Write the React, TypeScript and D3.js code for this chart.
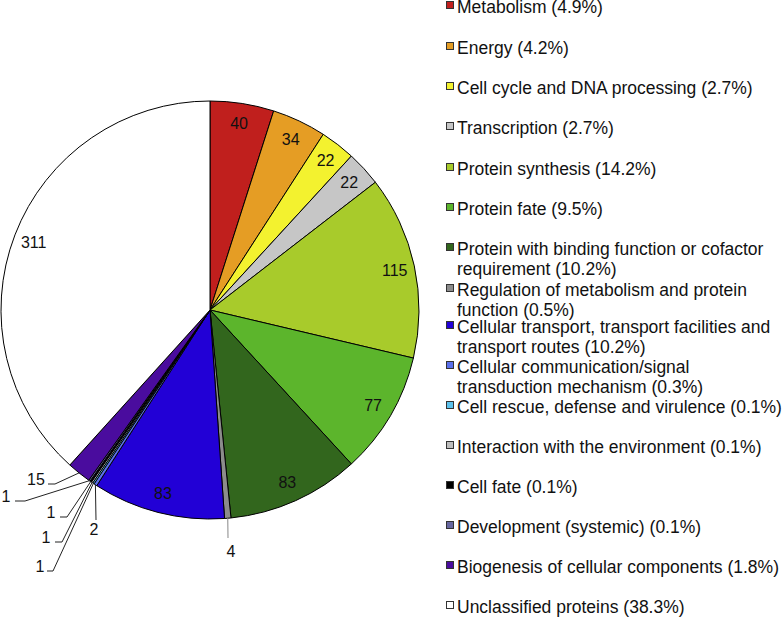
import React from "react";
import * as d3 from "d3";

const categories = [
  "Metabolism",
  "Energy",
  "Cell cycle and DNA processing",
  "Transcription",
  "Protein synthesis",
  "Protein fate",
  "Protein with binding function or cofactor requirement",
  "Regulation of metabolism and protein function",
  "Cellular transport, transport facilities and transport routes",
  "Cellular communication/signal transduction mechanism",
  "Cell rescue, defense and virulence",
  "Interaction with the environment",
  "Cell fate",
  "Development (systemic)",
  "Biogenesis of cellular components",
  "Unclassified proteins",
];
const counts = [40, 34, 22, 22, 115, 77, 83, 4, 83, 2, 1, 1, 1, 1, 15, 311];
const percents = ["4.9%", "4.2%", "2.7%", "2.7%", "14.2%", "9.5%", "10.2%", "0.5%", "10.2%", "0.3%", "0.1%", "0.1%", "0.1%", "0.1%", "1.8%", "38.3%"];
const colors = [
  "#c01f1d", "#e59d24", "#f3f22f", "#c6c6c6", "#a8cb2b", "#5cb52c", "#32661d", "#8c8c8c",
  "#2200d6", "#5a6fea", "#5cc1ec", "#bdbdbd", "#000000", "#6767a0", "#4a0c9e", "#ffffff",
];
// legend line wrapping (text), layout handled below
const legendLines = [
  ["Metabolism (4.9%)"],
  ["Energy (4.2%)"],
  ["Cell cycle and DNA processing (2.7%)"],
  ["Transcription (2.7%)"],
  ["Protein synthesis (14.2%)"],
  ["Protein fate (9.5%)"],
  ["Protein with binding function or cofactor", "requirement (10.2%)"],
  ["Regulation of metabolism and protein", "function (0.5%)"],
  ["Cellular transport, transport facilities and", "transport routes (10.2%)"],
  ["Cellular communication/signal", "transduction mechanism (0.3%)"],
  ["Cell rescue, defense and virulence (0.1%)"],
  ["Interaction with the environment (0.1%)"],
  ["Cell fate (0.1%)"],
  ["Development (systemic) (0.1%)"],
  ["Biogenesis of cellular components (1.8%)"],
  ["Unclassified proteins (38.3%)"],
];

// layout
const W = 782, H = 626;
const CX = 210, CY = 310, R = 209, LABEL_R = 189;
const legendBaselines = [13, 54, 94, 134, 175, 215, 255, 296, 333, 373, 413, 453, 493, 533, 573, 613];
const FONT = "Liberation Sans, Arial, Helvetica, sans-serif";
const LEGEND_FS = 17.5;
const inside = new Set([0, 1, 2, 3, 4, 5, 6, 8, 15]);
// outside label layout: text position and elbow points
const outsideLayout: Record<number, { tx: number; ty: number; pts: [number, number][]; stroke: string }> = {
  7: { tx: 231, ty: 557, pts: [[228, 538]], stroke: "#888" },
  9: { tx: 94, ty: 535, pts: [[96, 520]], stroke: "#222" },
  10: { tx: 40, ty: 572, pts: [[47, 571], [53, 571]], stroke: "#222" },
  11: { tx: 46, ty: 543, pts: [[55, 542], [62, 542]], stroke: "#222" },
  12: { tx: 51, ty: 518, pts: [[60, 517], [67, 517]], stroke: "#222" },
  13: { tx: 6, ty: 502, pts: [[15, 501], [25, 501]], stroke: "#222" },
  14: { tx: 36, ty: 485, pts: [[48, 484], [55, 484]], stroke: "#222" },
};

export default function App() {
  const pie = d3.pie<number>().sort(null).value((d) => d).startAngle(0).endAngle(2 * Math.PI);
  const arcs = pie(counts);
  const arc = d3.arc<d3.PieArcDatum<number>>().innerRadius(0).outerRadius(R);
  const labelArc = d3.arc<d3.PieArcDatum<number>>().innerRadius(LABEL_R).outerRadius(LABEL_R);
  const edgeArc = d3.arc<d3.PieArcDatum<number>>().innerRadius(R).outerRadius(R);
  const line = d3.line();

  return (
    <svg width={W} height={H} style={{ position: "absolute", left: 0, top: 0, background: "#fff" }} fontFamily={FONT}>
      <g transform={`translate(${CX},${CY})`}>
        {arcs.map((a, i) => (
          <path key={i} d={arc(a) || ""} fill={colors[i]} stroke="#000" strokeWidth={1} strokeLinejoin="round" />
        ))}
        {arcs.map((a, i) => {
          if (!inside.has(i)) return null;
          const [x, y] = labelArc.centroid(a);
          return (
            <text key={"l" + i} x={x} y={y} dy="0.35em" textAnchor="middle" fontSize={16} fill="#111">
              {counts[i]}
            </text>
          );
        })}
      </g>
      {arcs.map((a, i) => {
        const lay = outsideLayout[i];
        if (!lay) return null;
        const [ax, ay] = edgeArc.centroid(a);
        const anchor: [number, number] = [ax + CX, ay + CY];
        const pts: [number, number][] = [...lay.pts, anchor];
        return (
          <g key={"o" + i}>
            <path d={line(pts) || ""} fill="none" stroke={lay.stroke} strokeWidth={1} />
            <text x={lay.tx} y={lay.ty} textAnchor="middle" fontSize={16} fill="#111">
              {counts[i]}
            </text>
          </g>
        );
      })}
      <g>
        {categories.map((c, i) => {
          const b = legendBaselines[i];
          return (
            <g key={"lg" + i}>
              <rect x={446.5} y={b - 11.5} width={7} height={7} fill={colors[i]} stroke="#333" strokeWidth={1} />
              <text x={457} y={b} fontSize={LEGEND_FS} fill="#111">
                {legendLines[i].map((t, k) => (
                  <tspan key={k} x={457} y={b + k * 20}>
                    {t}
                  </tspan>
                ))}
              </text>
            </g>
          );
        })}
      </g>
    </svg>
  );
}
